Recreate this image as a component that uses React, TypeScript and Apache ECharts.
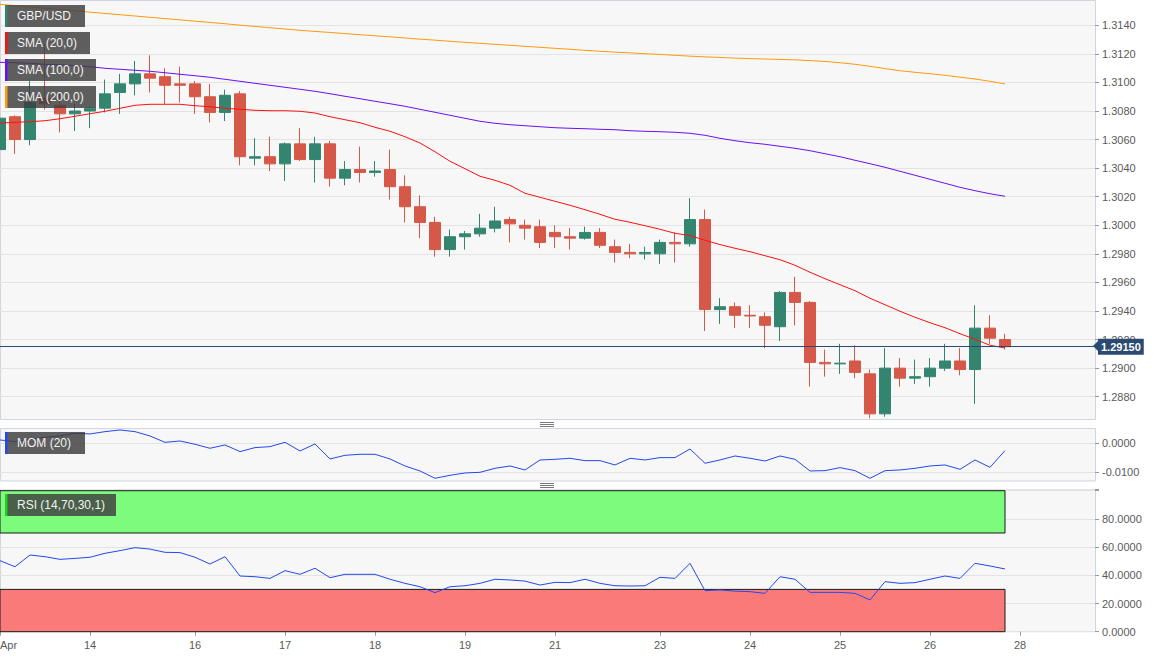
import React, { useEffect, useRef } from 'react';
import * as echarts from 'echarts';

// ---- slots / tick labels ----
const slots = Array.from({ length: 74 }, (_, i) => String(i));
const dayLabelIdx = [0, 6, 13, 19, 25, 31, 37, 44, 50, 56, 62, 68];
const dayLabels = ['Apr', '14', '16', '17', '18', '19', '21', '23', '24', '25', '26', '28'];

// ---- GBP/USD 4h candles ----
const open = [1.3053, 1.3076, 1.3060, 1.3089, 1.3084, 1.3078, 1.3080, 1.3082, 1.3093, 1.3099,
  1.3106, 1.3104, 1.3099, 1.3099, 1.3090, 1.3079, 1.3092, 1.3047, 1.3048, 1.3043,
  1.3057, 1.3046, 1.3057, 1.3033, 1.3039, 1.3037, 1.3039, 1.3027, 1.3013, 1.3002,
  1.2983, 1.2992, 1.2994, 1.2998, 1.3004, 1.3000, 1.2999, 1.2995, 1.2992, 1.2991,
  1.2995, 1.2985, 1.2981, 1.2980, 1.2980, 1.2988, 1.2987, 1.3004, 1.2941, 1.2943,
  1.2937, 1.2936, 1.2929, 1.2953, 1.2946, 1.2904, 1.2903, 1.2905, 1.2896, 1.2868,
  1.2900, 1.2893, 1.2894, 1.2900, 1.2905, 1.2899, 1.2928, 1.2920];
const high = [1.3081, 1.3077, 1.3101, 1.3127, 1.3094, 1.3085, 1.3083, 1.3102, 1.3106, 1.3115,
  1.3119, 1.3110, 1.3111, 1.3101, 1.3099, 1.3095, 1.3094, 1.3061, 1.3062, 1.3058,
  1.3068, 1.3062, 1.3059, 1.3045, 1.3055, 1.3045, 1.3053, 1.3035, 1.3021, 1.3006,
  1.2997, 1.2996, 1.3008, 1.3013, 1.3006, 1.3004, 1.3004, 1.3000, 1.2998, 1.2999,
  1.2998, 1.2990, 1.2987, 1.2985, 1.2990, 1.2995, 1.3019, 1.3011, 1.2949, 1.2946,
  1.2944, 1.2939, 1.2954, 1.2964, 1.2947, 1.2913, 1.2917, 1.2916, 1.2899, 1.2914,
  1.2907, 1.2906, 1.2907, 1.2917, 1.2914, 1.2944, 1.2937, 1.2924];
const low = [1.3048, 1.3050, 1.3056, 1.3081, 1.3065, 1.3066, 1.3068, 1.3079, 1.3078, 1.3091,
  1.3093, 1.3085, 1.3086, 1.3078, 1.3072, 1.3073, 1.3042, 1.3042, 1.3038, 1.3031,
  1.3045, 1.3030, 1.3027, 1.3028, 1.3030, 1.3034, 1.3018, 1.3002, 1.2991, 1.2978,
  1.2978, 1.2983, 1.2992, 1.2995, 1.2988, 1.2990, 1.2984, 1.2984, 1.2983, 1.2990,
  1.2984, 1.2974, 1.2977, 1.2976, 1.2973, 1.2974, 1.2985, 1.2926, 1.2931, 1.2928,
  1.2928, 1.2914, 1.2919, 1.2930, 1.2887, 1.2894, 1.2896, 1.2893, 1.2865, 1.2866,
  1.2887, 1.2889, 1.2887, 1.2898, 1.2895, 1.2875, 1.2917, 1.2913];
const close = [1.3075, 1.3060, 1.3086, 1.3085, 1.3078, 1.3080, 1.3082, 1.3092, 1.3099, 1.3106,
  1.3103, 1.3098, 1.3098, 1.3090, 1.3079, 1.3091, 1.3048, 1.3048, 1.3043, 1.3057,
  1.3046, 1.3057, 1.3033, 1.3039, 1.3037, 1.3038, 1.3027, 1.3013, 1.3002, 1.2983,
  1.2992, 1.2994, 1.2998, 1.3003, 1.3001, 1.2998, 1.2988, 1.2992, 1.2991, 1.2995,
  1.2986, 1.2981, 1.2980, 1.2981, 1.2988, 1.2987, 1.3004, 1.2941, 1.2943, 1.2937,
  1.29365, 1.2930, 1.2953, 1.2946, 1.2904, 1.2903, 1.29035, 1.2897, 1.2868, 1.2900,
  1.2893, 1.2894, 1.2900, 1.2905, 1.2899, 1.2928, 1.2921, 1.2915];

// ---- moving averages ----
const sma20 = [1.30716, 1.30721, 1.30725, 1.30732, 1.30746, 1.30763, 1.30781, 1.30798, 1.30819, 1.30840,
  1.30847, 1.30847, 1.30847, 1.30837, 1.30830, 1.30819, 1.30812, 1.30805, 1.30802, 1.30802,
  1.30798, 1.30786, 1.30760, 1.30739, 1.30718, 1.30686, 1.30658, 1.30620, 1.30576, 1.30515,
  1.30448, 1.30396, 1.30343, 1.30315, 1.30280, 1.30224, 1.30196, 1.30168, 1.30140, 1.30109,
  1.30077, 1.30042, 1.30021, 1.29997, 1.29972, 1.29944, 1.29928, 1.29895, 1.29865, 1.29839,
  1.29815, 1.29787, 1.29759, 1.29720, 1.29671, 1.29626, 1.29584, 1.29542, 1.29489, 1.29444,
  1.29398, 1.29356, 1.29318, 1.29283, 1.29241, 1.29202, 1.29160, 1.29141];
const sma100 = [1.31141, 1.31138, 1.31134, 1.31127, 1.31124, 1.31117, 1.31110, 1.31099, 1.31092, 1.31085,
  1.31078, 1.31068, 1.31057, 1.31047, 1.31036, 1.31022, 1.31008, 1.30994, 1.30980, 1.30966,
  1.30952, 1.30938, 1.30921, 1.30903, 1.30886, 1.30868, 1.30851, 1.30833, 1.30812, 1.30791,
  1.30770, 1.30749, 1.30728, 1.30714, 1.30704, 1.30697, 1.30690, 1.30683, 1.30679, 1.30676,
  1.30672, 1.30669, 1.30662, 1.30658, 1.30655, 1.30651, 1.30644, 1.30630, 1.30609, 1.30592,
  1.30578, 1.30567, 1.30553, 1.30539, 1.30522, 1.30501, 1.30480, 1.30455, 1.30431, 1.30406,
  1.30378, 1.30350, 1.30322, 1.30294, 1.30266, 1.30242, 1.30221, 1.30203];
const sma200 = [1.31547, 1.31538, 1.31529, 1.31520, 1.31511, 1.31502, 1.31492, 1.31483, 1.31474, 1.31465,
  1.31456, 1.31447, 1.31438, 1.31429, 1.31420, 1.31411, 1.31401, 1.31392, 1.31383, 1.31374,
  1.31365, 1.31357, 1.31350, 1.31342, 1.31334, 1.31327, 1.31319, 1.31311, 1.31303, 1.31296,
  1.31288, 1.31281, 1.31274, 1.31267, 1.31260, 1.31253, 1.31246, 1.31239, 1.31232, 1.31225,
  1.31218, 1.31212, 1.31207, 1.31201, 1.31196, 1.31190, 1.31184, 1.31179, 1.31175, 1.31170,
  1.31167, 1.31164, 1.31161, 1.31158, 1.31153, 1.31147, 1.31138, 1.31127, 1.31113, 1.31097,
  1.31082, 1.31071, 1.31061, 1.31050, 1.31037, 1.31024, 1.31008, 1.30990];

// ---- indicators ----
const mom = [0.00115, 0.00057, 0.00138, 0.00207, 0.00253, 0.00345, 0.00322, 0.00402, 0.00460, 0.00402,
  0.00253, 0.00034, 0.00080, -0.00034, -0.00172, -0.00057, -0.00287, -0.00149, -0.00115, 0.00034,
  -0.00264, -0.00023, -0.00540, -0.00414, -0.00379, -0.00379, -0.00540, -0.00782, -0.00954, -0.01207,
  -0.01103, -0.01023, -0.01000, -0.00862, -0.00782, -0.00920, -0.00575, -0.00552, -0.00517, -0.00598,
  -0.00598, -0.00747, -0.00517, -0.00575, -0.00494, -0.00494, -0.00195, -0.00690, -0.00575, -0.00437,
  -0.00517, -0.00609, -0.00437, -0.00552, -0.00954, -0.00943, -0.00839, -0.00943, -0.01207, -0.00943,
  -0.00920, -0.00862, -0.00782, -0.00747, -0.00897, -0.00575, -0.00828, -0.00253];
const rsi = [50.4, 46.1, 54.4, 53.2, 51.3, 52.0, 52.8, 55.6, 57.5, 59.6,
  58.6, 56.3, 56.1, 52.8, 48.0, 53.2, 39.5, 39.0, 37.8, 43.3,
  40.7, 45.0, 38.3, 40.7, 40.7, 40.7, 37.2, 34.3, 31.9, 27.7,
  31.9, 32.6, 34.3, 37.2, 36.7, 35.9, 33.1, 35.0, 34.8, 37.2,
  34.3, 32.6, 32.4, 32.6, 38.6, 37.8, 48.5, 29.1, 29.6, 28.8,
  28.4, 27.2, 39.0, 37.2, 27.9, 27.9, 27.9, 27.2, 22.5, 35.5,
  34.3, 34.8, 37.2, 39.5, 37.8, 48.5, 46.6, 44.5];
const rsiOverbought = 70;
const rsiOversold = 30;

const lastPrice = close[close.length - 1];

const FONT = 'Liberation Sans, Arial, sans-serif';
const BULL = '#338570';
const BEAR = '#d65848';
const AXIS_LABEL = '#5a5a5a';
const GRID_LINE = '#e3e3e3';
const FRAME = '#cfd5e1';
const PLOT_W = 1095;

function legendBox(x: number, y: number, w: number, bar: string, text: string) {
  return {
    type: 'group',
    z: 100,
    children: [
      { type: 'rect', shape: { x, y, width: w, height: 22 }, style: { fill: 'rgba(62,62,62,0.83)' }, z: 100 },
      { type: 'rect', shape: { x, y, width: 2.5, height: 22 }, style: { fill: bar }, z: 101 },
      {
        type: 'text', z: 102,
        style: { text, x: x + 12, y: y + 11, fill: '#f2f2f2', font: `12px ${FONT}`, textVerticalAlign: 'middle' },
      },
    ],
  };
}

function handle(cx: number, cy: number) {
  const lines = [-2, 0, 2].map((d) => ({
    type: 'line',
    shape: { x1: cx - 7, y1: cy + d, x2: cx + 7, y2: cy + d },
    style: { stroke: '#7a7a7a', lineWidth: 1 },
  }));
  return { type: 'group', children: lines };
}

export default function App() {
  const ref = useRef<HTMLDivElement>(null);
  useEffect(() => {
    document.body.style.margin = '0';
    const chart = echarts.init(ref.current!, null, { renderer: 'svg' });
    const candles = open.map((o, i) => [o, close[i], low[i], high[i]]);
    const showIdx = (i: number) => dayLabelIdx.indexOf(i) >= 0;

    const hiddenX = (gridIndex: number) => ({
      type: 'category', gridIndex, data: slots, boundaryGap: false,
      axisLine: { show: false }, axisTick: { show: false }, axisLabel: { show: false }, splitLine: { show: false },
    });

    const yCommon = {
      position: 'right',
      axisLine: { show: false },
      axisTick: { show: true, length: 4, lineStyle: { color: '#9a9a9a' } },
      splitLine: { show: true, lineStyle: { color: GRID_LINE, width: 1 } },
    };

    const option: any = {
      animation: false,
      backgroundColor: '#ffffff',
      textStyle: { fontFamily: FONT },
      grid: [
        { left: 0, width: PLOT_W, top: 25.3, height: 371.4, outerBoundsMode: 'none', containLabel: false },
        { left: 0, width: PLOT_W, top: 443.3, height: 29, outerBoundsMode: 'none', containLabel: false },
        { left: 0, width: PLOT_W, top: 489.3, height: 142.4, outerBoundsMode: 'none', containLabel: false },
      ],
      xAxis: [
        hiddenX(0),
        hiddenX(1),
        {
          type: 'category', gridIndex: 2, data: slots, boundaryGap: false,
          axisLine: { show: false },
          axisTick: { show: true, length: 4, interval: (i: number) => showIdx(i), lineStyle: { color: '#9a9a9a' } },
          axisLabel: {
            show: true, interval: (i: number) => showIdx(i),
            formatter: (_v: string, i: number) => dayLabels[dayLabelIdx.indexOf(i)] ?? '',
            color: AXIS_LABEL, fontSize: 11, margin: 8, alignMinLabel: 'left',
          },
          splitLine: { show: false },
        },
      ],
      yAxis: [
        {
          ...yCommon, type: 'value', gridIndex: 0, min: 1.288, max: 1.314, interval: 0.002,
          axisLabel: { formatter: (v: number) => v.toFixed(4), color: AXIS_LABEL, fontSize: 11, margin: 7 },
        },
        {
          ...yCommon, type: 'value', gridIndex: 1, min: -0.01, max: 0, interval: 0.01,
          axisLabel: { formatter: (v: number) => v.toFixed(4), color: AXIS_LABEL, fontSize: 11, margin: 7 },
        },
        {
          ...yCommon, type: 'value', gridIndex: 2, min: 0, max: 101, interval: 20,
          axisLabel: {
            formatter: (v: number) => (v <= 80 && Math.abs(v % 20) < 1e-6 ? v.toFixed(4) : ''),
            color: AXIS_LABEL, fontSize: 11, margin: 7,
          },
          axisTick: { show: true, length: 4, lineStyle: { color: '#9a9a9a' } },
        },
      ],
      series: [
        {
          name: 'GBP/USD', type: 'candlestick', xAxisIndex: 0, yAxisIndex: 0, data: candles,
          barWidth: 11, clip: false, z: 3,
          itemStyle: { color: BULL, color0: BEAR, borderColor: BULL, borderColor0: BEAR, borderWidth: 1 },
        },
        {
          name: 'SMA (20,0)', type: 'line', xAxisIndex: 0, yAxisIndex: 0, data: sma20, symbol: 'none',
          clip: false, z: 4, lineStyle: { color: '#ff1010', width: 1 },
          markLine: {
            silent: true, symbol: 'none', animation: false, z: 10, precision: 5,
            lineStyle: { color: '#2a4a72', width: 1, type: 'solid' },
            label: {
              show: true, position: 'end', distance: 3,
              formatter: () => lastPrice.toFixed(5),
              backgroundColor: '#2a4a72', color: '#ffffff', fontWeight: 'bold', fontSize: 11,
              padding: [3, 3, 2, 3], fontFamily: FONT,
            },
            data: [{ yAxis: lastPrice }],
          },
        },
        {
          name: 'SMA (100,0)', type: 'line', xAxisIndex: 0, yAxisIndex: 0, data: sma100, symbol: 'none',
          clip: false, z: 4, lineStyle: { color: '#6a10f5', width: 1 },
        },
        {
          name: 'SMA (200,0)', type: 'line', xAxisIndex: 0, yAxisIndex: 0, data: sma200, symbol: 'none',
          clip: false, z: 4, lineStyle: { color: '#ff9a10', width: 1 },
        },
        {
          name: 'MOM (20)', type: 'line', xAxisIndex: 1, yAxisIndex: 1, data: mom, symbol: 'none',
          clip: false, z: 4, lineStyle: { color: '#2448f0', width: 1 },
        },
        {
          name: 'RSI (14,70,30,1)', type: 'line', xAxisIndex: 2, yAxisIndex: 2, data: rsi, symbol: 'none',
          clip: false, z: 4, lineStyle: { color: '#2448f0', width: 1 },
          markArea: {
            silent: true,
            data: [
              [
                { xAxis: slots[0], yAxis: rsiOverbought, itemStyle: { color: '#7cfb7c', borderColor: '#1a1a1a', borderWidth: 1 } },
                { xAxis: slots[rsi.length - 1], yAxis: 100 },
              ],
              [
                { xAxis: slots[0], yAxis: 0, itemStyle: { color: '#fa7a7a', borderColor: '#1a1a1a', borderWidth: 1 } },
                { xAxis: slots[rsi.length - 1], yAxis: rsiOversold },
              ],
            ],
          },
        },
      ],
      graphic: [
        // panel frames/backgrounds
        { type: 'rect', z: -10, shape: { x: 0.5, y: 0.5, width: PLOT_W, height: 419 }, style: { fill: '#f7f7f7', stroke: FRAME, lineWidth: 1 } },
        { type: 'rect', z: -10, shape: { x: 0.5, y: 428.5, width: PLOT_W, height: 52.5 }, style: { fill: '#f7f7f7', stroke: FRAME, lineWidth: 1 } },
        { type: 'rect', z: -10, shape: { x: 0.5, y: 489.5, width: PLOT_W, height: 142.2 }, style: { fill: '#f7f7f7', stroke: FRAME, lineWidth: 1 } },
        handle(547, 424.5),
        handle(547, 485.5),
        legendBox(5, 5, 80, '#2e8570', 'GBP/USD'),
        legendBox(5, 32, 85, '#ff1010', 'SMA (20,0)'),
        legendBox(5, 59, 91, '#6a10f5', 'SMA (100,0)'),
        legendBox(5, 86, 91, '#ff9a10', 'SMA (200,0)'),
        legendBox(5, 432, 80, '#2448f0', 'MOM (20)'),
        legendBox(5, 494, 111, '#22cc22', 'RSI (14,70,30,1)'),
        {
          type: 'polygon', z: 100,
          shape: { points: [[1093, 346], [1098.5, 340.5], [1098.5, 351.5]] },
          style: { fill: '#2a4a72' },
        },
      ],
    };
    chart.setOption(option);
    return () => chart.dispose();
  }, []);
  return <div ref={ref} style={{ width: 1166, height: 658 }} />;
}
